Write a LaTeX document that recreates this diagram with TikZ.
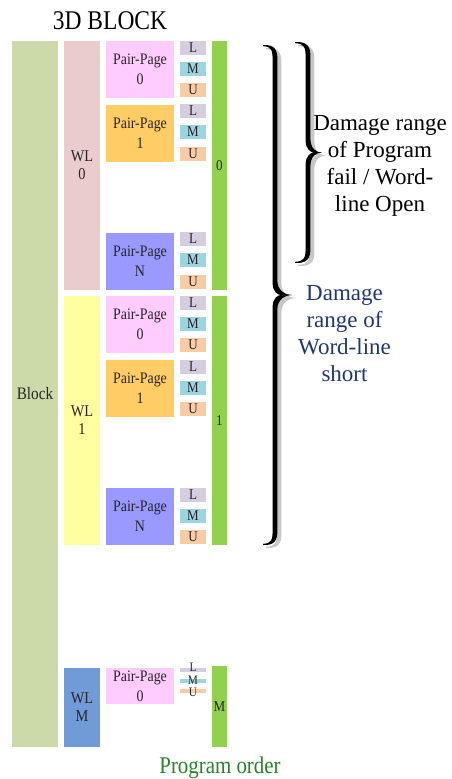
\documentclass[tikz,border=0pt]{standalone}
\usepackage{fontspec}
\setmainfont[FakeStretch=0.87]{Liberation Serif}
\newfontfamily\dfont{Liberation Serif}
\definecolor{cblock}{RGB}{204,218,170}
\definecolor{cwlzero}{RGB}{235,204,204}
\definecolor{cwlone}{RGB}{255,255,160}
\definecolor{cwlm}{RGB}{112,155,215}
\definecolor{cppzero}{RGB}{255,204,255}
\definecolor{cppone}{RGB}{255,204,102}
\definecolor{cppn}{RGB}{153,153,255}
\definecolor{cl}{RGB}{214,205,225}
\definecolor{cm}{RGB}{155,213,224}
\definecolor{cu}{RGB}{250,204,165}
\definecolor{cbar}{RGB}{146,208,80}
\definecolor{cblue}{RGB}{32,56,110}
\definecolor{cgreentext}{RGB}{40,130,40}
\tikzset{
  box/.style={inner sep=0pt, outer sep=0pt, draw=none, align=center, text=black!85},
  pp/.style={box, minimum width=68pt, minimum height=57pt, font=\fontsize{16}{20}\selectfont},
  wl/.style={box, minimum width=36pt, font=\fontsize{16.5}{18}\selectfont},
  lmu/.style={box, minimum width=26pt, minimum height=14pt, font=\fontsize{15}{15}\selectfont},
  strip/.style={box, minimum width=26pt, minimum height=4pt},
  bar/.style={box, fill=cbar, minimum width=15pt, font=\fontsize{15}{15}\selectfont},
  dtext/.style={align=center, inner sep=0pt, font=\dfont\fontsize{23}{27}\selectfont},
  braceshape/.style={fill=black},
  braceshadow/.style={fill=black!22}
}
% tapered curly brace: #1 x of ends, #2 top y, #3 bottom y, #4 amplitude, #5 spine offset, #6 style
\newcommand{\tbrace}[6]{%
  \begin{scope}[shift={(#1,#2)}]
    \pgfmathsetmacro\brh{#3-#2}
    \pgfmathsetmacro\brm{\brh/2}
    \pgfmathsetmacro\bra{#4}
    \pgfmathsetmacro\brs{#5}
    \pgfmathsetmacro\brw{2.4}
    \fill[#6] (0,0) .. controls ({\brs*0.9},-0.5) and ({\brs+\brw},4) .. ({\brs+\brw},14)
      -- ({\brs+\brw},{\brm-14}) .. controls ({\brs+\brw},{\brm-4}) and ({\bra-6},\brm) .. (\bra,\brm)
      .. controls ({\bra-6},\brm) and ({\brs+\brw},{\brm+4}) .. ({\brs+\brw},{\brm+14})
      -- ({\brs+\brw},{\brh-14}) .. controls ({\brs+\brw},{\brh-4}) and ({\brs*0.9},{\brh+0.5}) .. (0,\brh)
      -- (0,{\brh-1.2}) .. controls ({\brs*0.7},{\brh-1.5}) and ({\brs-\brw},{\brh-5}) .. ({\brs-\brw},{\brh-15})
      -- ({\brs-\brw},{\brm+12}) .. controls ({\brs-\brw},{\brm+3}) and ({\brs+3},\brm) .. ({\brs+6},\brm)
      .. controls ({\brs+3},\brm) and ({\brs-\brw},{\brm-3}) .. ({\brs-\brw},{\brm-12})
      -- ({\brs-\brw},15) .. controls ({\brs-\brw},5) and ({\brs*0.7},1.5) .. (0,1.2) -- cycle;
  \end{scope}}
\begin{document}
\begin{tikzpicture}[x=1pt,y=-1pt]
\useasboundingbox (0,0) rectangle (452,779);
% title
\node[anchor=base, font=\fontsize{27}{30}\selectfont] (title) at (110,29.5) {3D BLOCK};
% block column
\node[box, fill=cblock, minimum width=46pt, minimum height=706pt, font=\fontsize{17.5}{18}\selectfont] (block) at (35,394) {Block};
% word lines
\node[wl, fill=cwlzero, minimum height=249pt] (wl0) at (82,165.5) {WL\\0};
\node[wl, fill=cwlone, minimum height=249pt] (wl1) at (82,420.5) {WL\\1};
\node[wl, fill=cwlm, minimum height=79pt] (wlm) at (82,707.5) {WL\\M};
% pair pages WL0
\node[pp, fill=cppzero] (pa0) at (140,69.5) {Pair-Page\\0};
\node[pp, fill=cppone] (pa1) at (140,133) {Pair-Page\\1};
\node[pp, fill=cppn] (paN) at (140,261) {Pair-Page\\N};
% pair pages WL1
\node[pp, fill=cppzero] (pb0) at (140,324.5) {Pair-Page\\0};
\node[pp, fill=cppone] (pb1) at (140,388.5) {Pair-Page\\1};
\node[pp, fill=cppn] (pbN) at (140,516.5) {Pair-Page\\N};
% pair page WLM
\node[pp, fill=cppzero, minimum height=36pt] (pm0) at (140,686) {Pair-Page\\0};
% LMU WL0
\node[lmu, fill=cl] (a0l) at (193,48) {L};
\node[lmu, fill=cm] (a0m) at (193,69) {M};
\node[lmu, fill=cu] (a0u) at (193,90) {U};
\node[lmu, fill=cl] (a1l) at (193,111) {L};
\node[lmu, fill=cm] (a1m) at (193,132) {M};
\node[lmu, fill=cu] (a1u) at (193,153.5) {U};
\node[lmu, fill=cl] (aNl) at (193,239) {L};
\node[lmu, fill=cm] (aNm) at (193,260) {M};
\node[lmu, fill=cu] (aNu) at (193,281.5) {U};
% LMU WL1
\node[lmu, fill=cl] (b0l) at (193,303) {L};
\node[lmu, fill=cm] (b0m) at (193,324) {M};
\node[lmu, fill=cu] (b0u) at (193,345) {U};
\node[lmu, fill=cl] (b1l) at (193,367) {L};
\node[lmu, fill=cm] (b1m) at (193,388) {M};
\node[lmu, fill=cu] (b1u) at (193,409) {U};
\node[lmu, fill=cl] (bNl) at (193,495) {L};
\node[lmu, fill=cm] (bNm) at (193,516) {M};
\node[lmu, fill=cu] (bNu) at (193,537) {U};
% LMU WLM (thin strips)
\node[strip, fill=cl] (mls) at (193,670) {};
\node[strip, fill=cm] (mms) at (193,680.5) {};
\node[strip, fill=cu] (mus) at (193,691) {};
\node[box, font=\fontsize{13}{13}\selectfont] (mlt) at (193,667) {L};
\node[box, font=\fontsize{13}{13}\selectfont] (mmt) at (193,680) {M};
\node[box, font=\fontsize{13}{13}\selectfont] (mut) at (193,692) {U};
% green bars
\node[bar, minimum height=249pt] (bar0) at (219.5,165.5) {0};
\node[bar, minimum height=249pt] (bar1) at (219.5,420.5) {1};
\node[bar, minimum height=81pt] (barm) at (219.5,706.5) {M};
% program order
\node[anchor=base, text=cgreentext, font=\fontsize{24}{26}\selectfont] (porder) at (220,773) {Program order};
% braces with soft shadow
\tbrace{298}{45}{266}{28}{14}{braceshadow}
\tbrace{266}{48}{548}{30}{13}{braceshadow}
\tbrace{295}{42}{263}{27}{13}{braceshape}
\tbrace{263}{45}{545}{29}{12}{braceshape}
% damage texts
\node[dtext, anchor=base] (dmg1) at (380,211) {Damage range\\of Program\\fail / Word-\\line Open};
\node[dtext, anchor=base, text=cblue] (dmg2) at (344.5,381) {Damage\\range of\\Word-line\\short};
\end{tikzpicture}
\end{document}
